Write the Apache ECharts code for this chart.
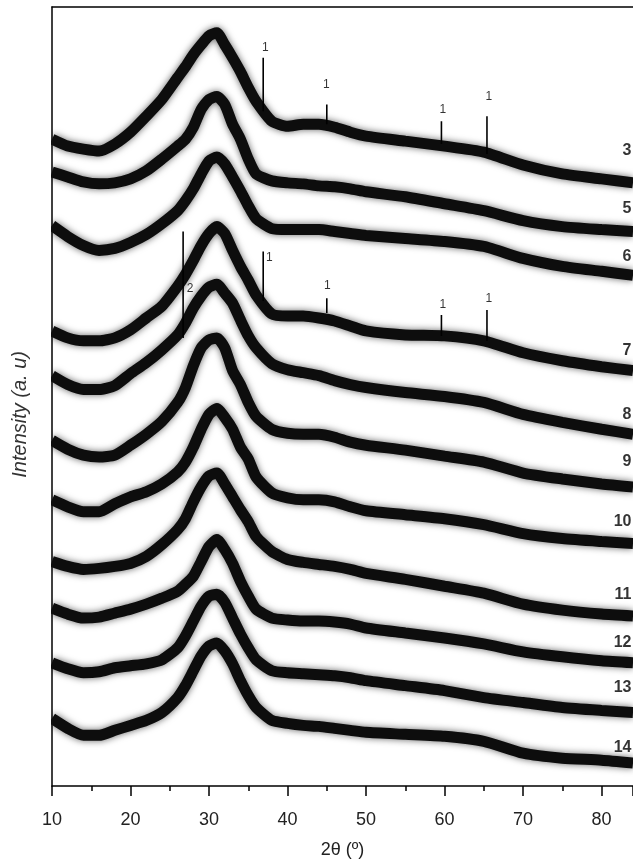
<!DOCTYPE html>
<html>
<head>
<meta charset="utf-8">
<script src="https://cdn.jsdelivr.net/npm/echarts@6/dist/echarts.min.js"></script>
<style>
  html, body { margin: 0; padding: 0; background: #fff; }
  #chart { width: 633px; height: 864px; }
</style>
</head>
<body>
<div id="chart"></div>
<script>
const twoTheta = [10, 12, 14, 16, 18, 20, 22, 24, 26, 27, 28, 29, 30, 31, 32, 33, 34, 35, 36, 38, 40, 42, 44, 46, 48, 50, 55, 60, 65, 70, 75, 80, 84]

// stacked patterns, intensity in a.u. (offset already included)
const sample3 = [651, 644, 641, 639, 646, 658, 674, 691, 713, 724, 736, 746, 755, 758, 746, 733, 719, 703, 689, 669, 664, 666, 666, 663, 658, 654, 649, 644, 638, 625, 616, 611, 607]
const sample5 = [618, 613, 608, 606, 607, 611, 619, 631, 644, 651, 663, 681, 691, 694, 686, 666, 651, 631, 616, 609, 607, 606, 604, 603, 601, 598, 593, 586, 579, 569, 563, 560, 558]
const sample6 = [564, 553, 544, 539, 541, 547, 555, 566, 579, 589, 601, 616, 629, 633, 626, 613, 599, 584, 571, 561, 560, 560, 560, 558, 556, 554, 551, 548, 543, 531, 523, 518, 514]
const sample7 = [458, 451, 448, 448, 451, 459, 471, 483, 503, 515, 529, 544, 556, 563, 556, 539, 523, 509, 494, 475, 473, 473, 471, 468, 463, 458, 454, 453, 448, 436, 428, 422, 418]
const sample8 = [413, 404, 399, 399, 403, 415, 426, 439, 454, 466, 481, 493, 502, 505, 496, 486, 469, 453, 441, 425, 419, 416, 413, 408, 404, 401, 396, 392, 386, 374, 366, 359, 354]
const sample9 = [348, 339, 333, 331, 333, 343, 354, 367, 386, 401, 423, 441, 449, 451, 441, 418, 404, 386, 372, 359, 355, 354, 354, 351, 346, 343, 338, 332, 326, 315, 309, 304, 301]
const sample10 = [288, 281, 276, 276, 284, 291, 296, 304, 316, 326, 341, 359, 374, 380, 371, 359, 341, 329, 311, 295, 290, 288, 288, 286, 281, 277, 273, 269, 263, 254, 249, 246, 244]
const sample11 = [226, 221, 218, 219, 221, 224, 231, 243, 258, 269, 286, 301, 312, 315, 304, 291, 278, 266, 251, 236, 228, 225, 223, 221, 218, 214, 208, 201, 194, 183, 177, 173, 171]
const sample12 = [179, 173, 169, 170, 174, 178, 183, 189, 196, 203, 211, 226, 241, 248, 238, 224, 206, 191, 178, 169, 167, 166, 166, 165, 163, 159, 154, 149, 143, 135, 130, 126, 124]
const sample13 = [124, 118, 114, 115, 119, 121, 123, 127, 139, 151, 166, 181, 191, 193, 185, 169, 153, 139, 127, 116, 114, 113, 112, 111, 109, 106, 101, 96, 89, 84, 79, 76, 74]
const sample14 = [68, 58, 51, 51, 56, 61, 66, 74, 89, 101, 116, 131, 141, 144, 136, 123, 106, 91, 79, 66, 63, 61, 60, 58, 56, 54, 52, 50, 45, 33, 28, 26, 23]

const patterns = [sample3, sample5, sample6, sample7, sample8, sample9, sample10, sample11, sample12, sample13, sample14]

// sharp crystalline reflections: [2θ, base, top]
const sharpPeaks = [
  [36.9, 679, 733], [45.0, 666, 686], [59.6, 646, 669], [65.4, 636, 674],
  [36.9, 488, 538], [45.0, 476, 491], [59.6, 453, 474], [65.4, 448, 479],
  [26.7, 451, 558]
]

// phase marks: [2θ, intensity, text]
const phaseMarks = [
  [37.16, 743, '1'], [44.95, 706, '1'], [59.77, 681, '1'], [65.65, 694, '1'],
  [37.68, 532, '1'], [45.08, 504, '1'], [59.77, 484, '1'], [65.65, 490, '1'],
  [27.59, 501, '2']
]

// sample numbers at the right end: [2θ, intensity, text]
const sampleNames = [
  [83.8, 639, '3'], [83.8, 581, '5'], [83.8, 533, '6'], [83.8, 438, '7'],
  [83.8, 374, '8'], [83.8, 326, '9'], [83.8, 266, '10'], [83.8, 193, '11'],
  [83.8, 144, '12'], [83.8, 99, '13'], [83.8, 39, '14']
]

const font = 'Liberation Sans, Arial, sans-serif'
const chart = echarts.init(document.getElementById('chart'))

const series = []
patterns.forEach(p => {
  series.push({
    type: 'line',
    data: twoTheta.map((t, i) => [t, p[i]]),
    symbol: 'none',
    smooth: 0.2,
    silent: true,
    lineStyle: {
      color: '#0d0d0d',
      width: 11,
      shadowColor: 'rgba(0,0,0,0.6)',
      shadowBlur: 7
    }
  })
})
sharpPeaks.forEach(s => {
  series.push({
    type: 'line',
    data: [[s[0], s[1]], [s[0], s[2]]],
    symbol: 'none',
    silent: true,
    lineStyle: { color: '#000', width: 1.6 }
  })
})
series.push({
  type: 'scatter',
  data: phaseMarks,
  symbolSize: 0,
  silent: true,
  label: {
    show: true,
    position: 'inside',
    formatter: p => p.value[2],
    color: '#000',
    fontFamily: font,
    fontSize: 12
  }
})
series.push({
  type: 'scatter',
  data: sampleNames,
  symbolSize: 0,
  silent: true,
  label: {
    show: true,
    position: 'left',
    distance: 0,
    formatter: p => p.value[2],
    color: '#000',
    fontFamily: font,
    fontWeight: 'bold',
    fontSize: 16
  }
})

chart.setOption({
  animation: false,
  grid: { left: 52, right: 0, top: 7, bottom: 73 },
  graphic: [
    {
      // hides the line caps that poke out left of the axis
      type: 'rect',
      z: 100,
      shape: { x: 0, y: 0, width: 51, height: 800 },
      style: { fill: '#fff' }
    },
    {
      type: 'text',
      z: 101,
      left: 10,
      top: 351,
      rotation: Math.PI / 2,
      style: {
        text: 'Intensity (a. u)',
        font: 'italic 20px ' + font,
        fill: '#333'
      }
    }
  ],
  xAxis: [
    {
      type: 'value',
      min: 10,
      max: 84,
      interval: 10,
      name: '2θ (º)',
      nameLocation: 'middle',
      nameGap: 55,
      nameTextStyle: { fontFamily: font, fontSize: 18, color: '#222' },
      axisLine: { lineStyle: { color: '#000', width: 1.5 } },
      axisTick: { inside: false, length: 10, lineStyle: { color: '#000', width: 1.5 } },
      minorTick: { show: true, splitNumber: 2, length: 5, lineStyle: { color: '#000', width: 1.5 } },
      axisLabel: { margin: 25, showMaxLabel: false, fontFamily: font, fontSize: 18, color: '#222' },
      splitLine: { show: false }
    },
    {
      type: 'value',
      position: 'top',
      min: 10,
      max: 84,
      axisLine: { lineStyle: { color: '#000', width: 1.5 } },
      axisTick: { show: false },
      axisLabel: { show: false },
      splitLine: { show: false }
    }
  ],
  yAxis: {
    type: 'value',
    min: 0,
    max: 784,
    axisLine: { show: true, lineStyle: { color: '#000', width: 1.5 } },
    axisTick: { show: false },
    axisLabel: { show: false },
    splitLine: { show: false }
  },
  series: series
})
</script>
</body>
</html>
